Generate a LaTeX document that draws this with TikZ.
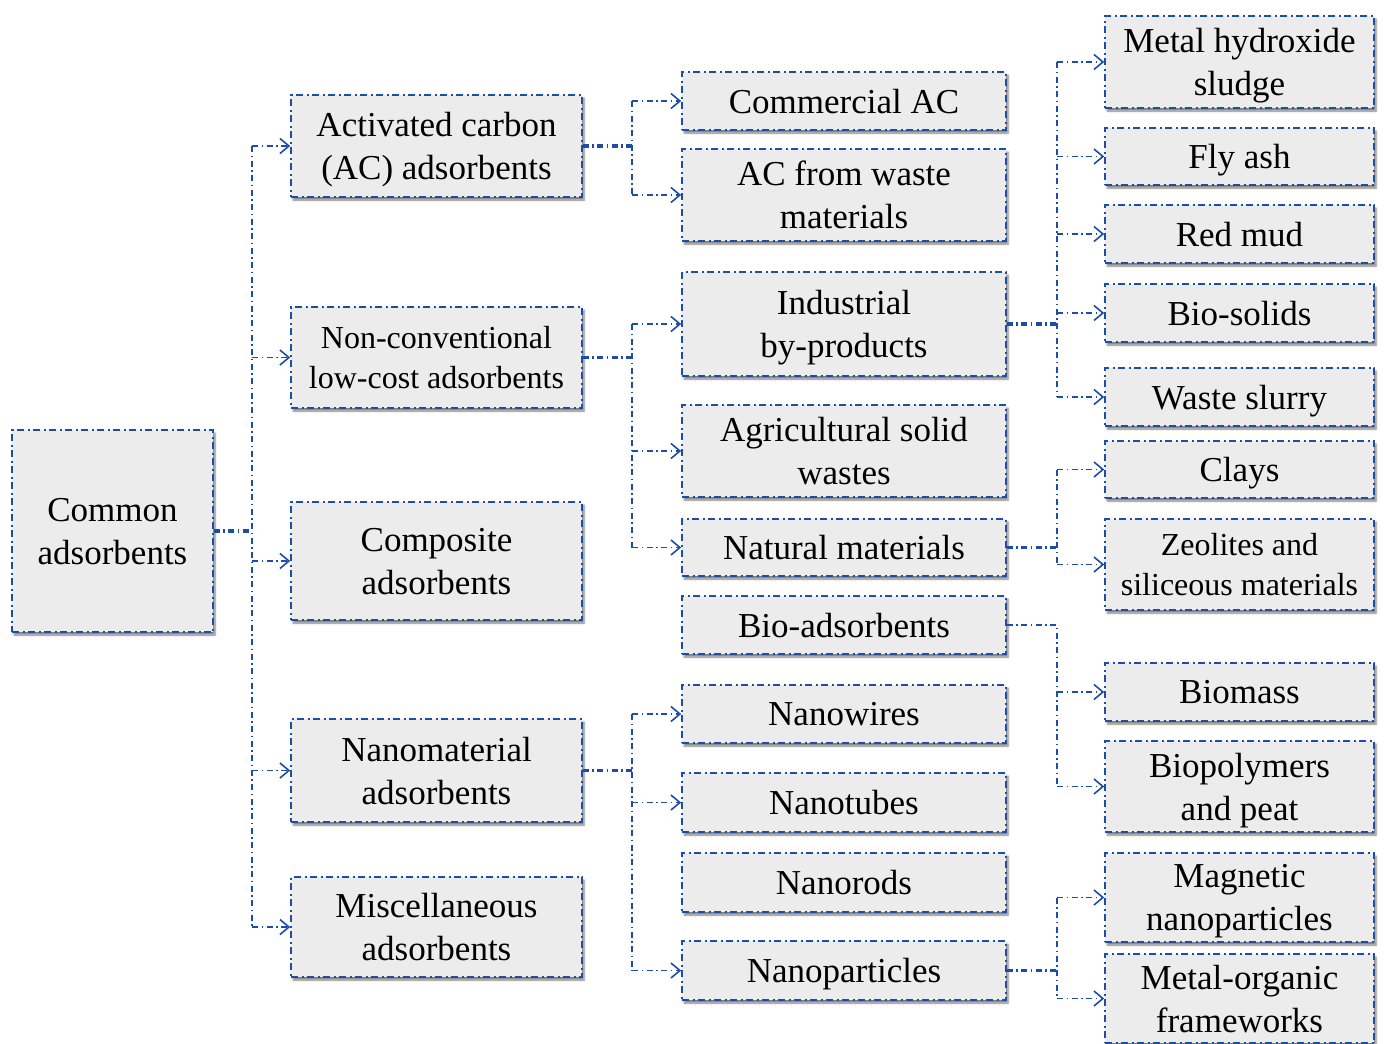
\documentclass[tikz,border=0pt]{standalone}
\usepackage{fontspec}
\setmainfont{Liberation Serif}
\usetikzlibrary{arrows.meta,shadows.blur}
\definecolor{bl}{RGB}{28,78,165}
\definecolor{boxfill}{RGB}{236,236,236}
\begin{document}
\begin{tikzpicture}[x=1pt,y=-1pt,
  box/.style={draw=bl, line width=1.6pt, dash pattern=on 7pt off 3.5pt on 2pt off 3.5pt,
    fill=boxfill, inner sep=0pt, align=center, font=\fontsize{35}{43}\selectfont,
    text depth=0pt,
    blur shadow={shadow xshift=2pt, shadow yshift=-3pt, shadow blur steps=6, shadow opacity=50}},
  small/.style={font=\fontsize{32}{40}\selectfont},
  conn/.style={draw=bl, line width=1.8pt, dash pattern=on 6pt off 3.5pt on 1.5pt off 3.5pt},
  stem/.style={conn, line width=3.2pt},
  arr/.style={conn, -{Straight Barb[length=9pt,width=15pt,line width=1.6pt]}}
]
\useasboundingbox (0,0) rectangle (1384,1044);
% column 1
\node[box, minimum width=201pt, minimum height=202pt] (common) at (112.5,531) {Common\\adsorbents};
% column 2
\node[box, minimum width=291pt, minimum height=102pt] (ac) at (436.5,146) {Activated carbon\\(AC) adsorbents};
\node[box, small, minimum width=291pt, minimum height=101pt] (nc) at (436.5,357.5) {Non-conventional\\low-cost adsorbents};
\node[box, minimum width=291pt, minimum height=118pt] (comp) at (436.5,561) {Composite\\adsorbents};
\node[box, minimum width=291pt, minimum height=103pt] (nano) at (436.5,770.5) {Nanomaterial\\adsorbents};
\node[box, minimum width=291pt, minimum height=100pt] (misc) at (436.5,927) {Miscellaneous\\adsorbents};
% column 3
\node[box, minimum width=324pt, minimum height=58pt] (cac) at (844,101) {Commercial AC};
\node[box, minimum width=324pt, minimum height=92pt] (acw) at (844,195) {AC from waste\\materials};
\node[box, minimum width=324pt, minimum height=104pt] (ind) at (844,324) {Industrial\\by-products};
\node[box, minimum width=324pt, minimum height=92pt] (agr) at (844,451) {Agricultural solid\\wastes};
\node[box, minimum width=324pt, minimum height=57pt] (nat) at (844,547.5) {Natural materials};
\node[box, minimum width=324pt, minimum height=58pt] (bio) at (844,625) {Bio-adsorbents};
\node[box, minimum width=324pt, minimum height=58pt] (nw) at (844,714) {Nanowires};
\node[box, minimum width=324pt, minimum height=59pt] (nt) at (844,802.5) {Nanotubes};
\node[box, minimum width=324pt, minimum height=59pt] (nr) at (844,882.5) {Nanorods};
\node[box, minimum width=324pt, minimum height=59pt] (np) at (844,970.5) {Nanoparticles};
% column 4
\node[box, minimum width=269pt, minimum height=92pt] (mhs) at (1239.5,62) {Metal hydroxide\\sludge};
\node[box, minimum width=269pt, minimum height=57pt] (fly) at (1239.5,156.5) {Fly ash};
\node[box, minimum width=269pt, minimum height=58pt] (red) at (1239.5,234) {Red mud};
\node[box, minimum width=269pt, minimum height=58pt] (bsol) at (1239.5,313) {Bio-solids};
\node[box, minimum width=269pt, minimum height=58pt] (ws) at (1239.5,397) {Waste slurry};
\node[box, minimum width=269pt, minimum height=57pt] (clay) at (1239.5,469.5) {Clays};
\node[box, small, minimum width=269pt, minimum height=91pt] (zeo) at (1239.5,564.5) {Zeolites and\\siliceous materials};
\node[box, minimum width=269pt, minimum height=58pt] (biom) at (1239.5,692) {Biomass};
\node[box, minimum width=269pt, minimum height=91pt] (biop) at (1239.5,786.5) {Biopolymers\\and peat};
\node[box, minimum width=269pt, minimum height=89pt] (mag) at (1239.5,897.5) {Magnetic\\nanoparticles};
\node[box, minimum width=269pt, minimum height=89pt] (mof) at (1239.5,998.5) {Metal-organic\\frameworks};
% junction columns
\coordinate (t1) at (252,531);
\coordinate (t2) at (632,146);
\coordinate (t4) at (1057,324);
% level 1
\draw[stem] (common.east) -- (t1);
\draw[conn] (t1 |- ac.west) -- (t1 |- misc.west);
\foreach \n in {ac,nc,comp,nano,misc} \draw[arr] (t1 |- \n.west) -- (\n.west);
% AC
\draw[stem] (ac.east) -- (ac.east -| t2);
\draw[conn] (t2 |- cac.west) -- (t2 |- acw.west);
\foreach \n in {cac,acw} \draw[arr] (t2 |- \n.west) -- (\n.west);
% non-conventional
\draw[stem] (nc.east) -- (nc.east -| t2);
\draw[conn] (t2 |- ind.west) -- (t2 |- nat.west);
\foreach \n in {ind,agr,nat} \draw[arr] (t2 |- \n.west) -- (\n.west);
% nanomaterials
\draw[stem] (nano.east) -- (nano.east -| t2);
\draw[conn] (t2 |- nw.west) -- (t2 |- np.west);
\foreach \n in {nw,nt,np} \draw[arr] (t2 |- \n.west) -- (\n.west);
% industrial
\draw[stem] (ind.east) -- (ind.east -| t4);
\draw[conn] (t4 |- mhs.west) -- (t4 |- ws.west);
\foreach \n in {mhs,fly,red,bsol,ws} \draw[arr] (t4 |- \n.west) -- (\n.west);
% natural
\draw[stem] (nat.east) -- (nat.east -| t4);
\draw[conn] (t4 |- clay.west) -- (t4 |- zeo.west);
\foreach \n in {clay,zeo} \draw[arr] (t4 |- \n.west) -- (\n.west);
% bio
\draw[conn] (bio.east) -- (bio.east -| t4) -- (t4 |- biop.west);
\foreach \n in {biom,biop} \draw[arr] (t4 |- \n.west) -- (\n.west);
% nanoparticles
\draw[stem] (np.east) -- (np.east -| t4);
\draw[conn] (t4 |- mag.west) -- (t4 |- mof.west);
\foreach \n in {mag,mof} \draw[arr] (t4 |- \n.west) -- (\n.west);
\end{tikzpicture}
\end{document}
